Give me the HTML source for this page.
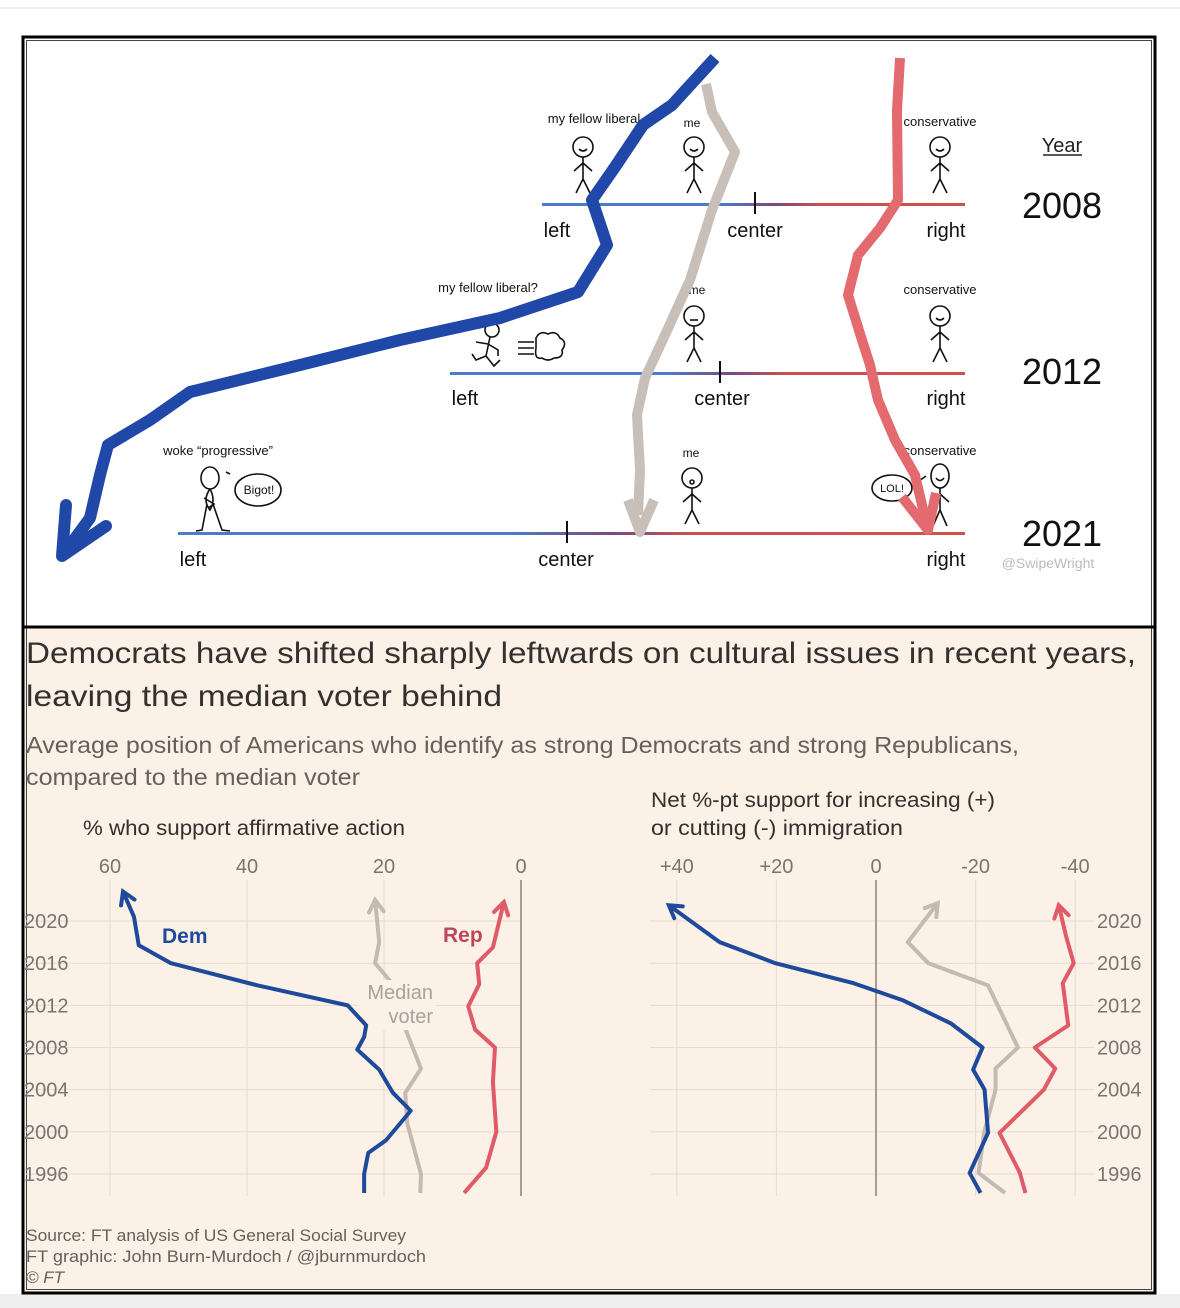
<!DOCTYPE html>
<html><head><meta charset="utf-8"><style>
html,body{margin:0;padding:0;background:#fff;}
svg{display:block;}
.cm{font-family:"Liberation Sans Narrow","Liberation Sans",sans-serif;}
.ft{font-family:"Liberation Sans",sans-serif;}
</style></head><body>
<svg id="page" width="1180" height="1308" viewBox="0 0 1180 1308" xmlns="http://www.w3.org/2000/svg">
<defs>
<linearGradient id="axg" x1="0" x2="1" y1="0" y2="0">
<stop offset="0" stop-color="#4a7cc8"/><stop offset="0.42" stop-color="#4a7cc8"/><stop offset="0.55" stop-color="#7a4a80"/><stop offset="0.65" stop-color="#c8504e"/><stop offset="1" stop-color="#d0504c"/></linearGradient>
</defs>
<rect x="0" y="0" width="1180" height="1308" fill="#fff"/>
<line x1="0" y1="8" x2="1180" y2="8" stroke="#ddd" stroke-width="1"/>
<rect x="0" y="1294" width="1180" height="14" fill="#eee"/>
<rect x="24" y="628" width="1130" height="664" fill="#fcf1e7"/>
<rect x="23" y="37" width="1132" height="1256" fill="none" stroke="#000" stroke-width="3"/>
<rect x="26.5" y="40.5" width="1125" height="1249" fill="none" stroke="#444" stroke-width="1"/>
<line x1="23" y1="627" x2="1155" y2="627" stroke="#000" stroke-width="3"/>

<!-- ===== COMIC ===== -->
<g class="cm">
<text x="1062" y="152" font-size="20" text-anchor="middle" fill="#222">Year</text>
<line x1="1043" y1="155" x2="1082" y2="155" stroke="#222" stroke-width="1.5"/>
<text x="1062" y="218" font-size="36" text-anchor="middle" fill="#111">2008</text>
<text x="1062" y="384" font-size="36" text-anchor="middle" fill="#111">2012</text>
<text x="1062" y="546" font-size="36" text-anchor="middle" fill="#111">2021</text>
<text x="1048" y="568" font-size="14" text-anchor="middle" fill="#bbb">@SwipeWright</text>

<g>
<rect x="542" y="203" width="423" height="3" fill="url(#axg)"/>
<line x1="755" y1="192" x2="755" y2="214" stroke="#111" stroke-width="2"/>
<text x="557" y="237" font-size="20" text-anchor="middle" fill="#111">left</text>
<text x="755" y="237" font-size="20" text-anchor="middle" fill="#111">center</text>
<text x="946" y="237" font-size="20" text-anchor="middle" fill="#111">right</text>
</g>
<g>
<rect x="450" y="372" width="515" height="3" fill="url(#axg)"/>
<line x1="720" y1="361" x2="720" y2="383" stroke="#111" stroke-width="2"/>
<text x="465" y="405" font-size="20" text-anchor="middle" fill="#111">left</text>
<text x="722" y="405" font-size="20" text-anchor="middle" fill="#111">center</text>
<text x="946" y="405" font-size="20" text-anchor="middle" fill="#111">right</text>
</g>
<g>
<rect x="178" y="532" width="787" height="3" fill="url(#axg)"/>
<line x1="567" y1="521" x2="567" y2="543" stroke="#111" stroke-width="2"/>
<text x="193" y="566" font-size="20" text-anchor="middle" fill="#111">left</text>
<text x="566" y="566" font-size="20" text-anchor="middle" fill="#111">center</text>
<text x="946" y="566" font-size="20" text-anchor="middle" fill="#111">right</text>
</g>

<g stroke="#111" stroke-width="1.6" fill="none">
<g transform="translate(583,147)"><circle r="10" fill="#fff"/><path d="M-4,2 Q0,6 4,2"/><path d="M0,10 V32 M-9,24 L0,16 L9,24 M0,32 L-7,46 M0,32 L7,46"/></g>
<g transform="translate(694,147)"><circle r="10" fill="#fff"/><path d="M-4,2 Q0,6 4,2"/><path d="M0,10 V32 M-9,24 L0,16 L9,24 M0,32 L-7,46 M0,32 L7,46"/></g>
<g transform="translate(940,147)"><circle r="10" fill="#fff"/><path d="M-4,2 Q0,6 4,2"/><path d="M0,10 V32 M-9,24 L0,16 L9,24 M0,32 L-7,46 M0,32 L7,46"/></g>
<g transform="translate(694,316)"><circle r="10" fill="#fff"/><path d="M-4,4 H4"/><path d="M0,10 V32 M-9,24 L0,16 L9,24 M0,32 L-7,46 M0,32 L7,46"/></g>
<g transform="translate(940,316)"><circle r="10" fill="#fff"/><path d="M-4,2 Q0,6 4,2"/><path d="M0,10 V32 M-9,24 L0,16 L9,24 M0,32 L-7,46 M0,32 L7,46"/></g>
<g transform="translate(490,330)"><circle r="7" cx="2" cy="0"/><path d="M0,7 L-4,26 L-14,30 L-18,24 M-4,26 L4,36 L10,30 M-2,14 L-14,12 M-2,14 L8,20 L8,26"/></g>
<path d="M518,342 H534 M518,348 H534 M518,354 H534" />
<path d="M536,338 q4,-8 12,-4 q8,-4 12,4 q8,4 2,12 q2,8 -8,8 q-6,4 -12,0 q-8,2 -6,-10 z"/>
<g transform="translate(210,478)"><ellipse rx="9" ry="11" fill="#fff"/><path d="M0,11 Q-8,22 0,32 Q6,22 0,11 M-3,26 L-8,52 L-14,53 M3,26 L12,52 L20,53 M-6,20 L4,26 L-2,30"/></g>
<ellipse cx="258" cy="490" rx="23" ry="16" fill="#fff"/>
<path d="M226,472 l4,2"/>
<g transform="translate(692,478)"><circle r="10" fill="#fff"/><circle cx="0" cy="4" r="2"/><path d="M0,10 V32 M-9,24 L0,16 L9,24 M0,32 L-7,46 M0,32 L7,46"/></g>
<g transform="translate(940,476)"><ellipse rx="9" ry="12" fill="#fff"/><path d="M-4,2 Q0,7 4,2"/><path d="M0,12 V34 M-9,26 L0,18 L9,26 M0,34 L-7,50 M0,34 L7,50"/></g>
<ellipse cx="892" cy="488" rx="20" ry="13" fill="#fff"/>
<path d="M912,486 l14,-10"/>
</g>
<g font-size="13" fill="#111" text-anchor="middle">
<text x="594" y="123">my fellow liberal</text>
<text x="692" y="127" font-size="12">me</text>
<text x="940" y="126">conservative</text>
<text x="488" y="292">my fellow liberal?</text>
<text x="697" y="294" font-size="12">me</text>
<text x="940" y="294">conservative</text>
<text x="218" y="455">woke “progressive”</text>
<text x="691" y="457" font-size="12">me</text>
<text x="940" y="455">conservative</text>
<text x="259" y="494" font-size="12">Bigot!</text>
<text x="892" y="492" font-size="11">LOL!</text>
</g>

<path d="M715,58 L672,105 L643,125 L615,167 L592,200 L607,245 L578,292 L500,318 L400,340 L300,365 L190,392 L150,420 L108,445 L100,475 L90,518 L68,548" fill="none" stroke="#2048a8" stroke-width="12" stroke-linejoin="round"/>
<path d="M62,556 L66,505 M62,556 L106,526" fill="none" stroke="#2048a8" stroke-width="12" stroke-linecap="round"/>
<path d="M706,84 L712,112 L735,152 L712,210 L690,280 L665,335 L645,378 L637,415 L640,470 L638,515" fill="none" stroke="#c8c0b8" stroke-width="10" stroke-linejoin="round"/>
<path d="M628,500 L640,532 L654,500" fill="none" stroke="#c8c0b8" stroke-width="10" stroke-linejoin="round"/>
<path d="M900,58 L897,110 L898,200 L880,228 L858,255 L848,295 L862,340 L870,365 L878,400 L895,440 L915,475 L926,522" fill="none" stroke="#e36a6e" stroke-width="10" stroke-linejoin="round"/>
<path d="M902,497 L928,530 L936,493" fill="none" stroke="#e36a6e" stroke-width="10" stroke-linejoin="round"/>
</g>

<!-- ===== FT CHART ===== -->
<g class="ft">
<text x="26" y="663" font-size="30" fill="#33302e" textLength="1110" lengthAdjust="spacingAndGlyphs">Democrats have shifted sharply leftwards on cultural issues in recent years,</text>
<text x="26" y="706" font-size="30" fill="#33302e" textLength="476" lengthAdjust="spacingAndGlyphs">leaving the median voter behind</text>
<text x="26" y="753" font-size="23" fill="#66605c" textLength="993" lengthAdjust="spacingAndGlyphs">Average position of Americans who identify as strong Democrats and strong Republicans,</text>
<text x="26" y="785" font-size="23" fill="#66605c" textLength="334" lengthAdjust="spacingAndGlyphs">compared to the median voter</text>
<text x="83" y="835" font-size="21" fill="#33302e" textLength="322" lengthAdjust="spacingAndGlyphs">% who support affirmative action</text>
<text x="651" y="807" font-size="21" fill="#33302e" textLength="344" lengthAdjust="spacingAndGlyphs">Net %-pt support for increasing (+)</text>
<text x="651" y="835" font-size="21" fill="#33302e" textLength="252" lengthAdjust="spacingAndGlyphs">or cutting (-) immigration</text>
<g font-size="17" fill="#66605c">
<text x="26" y="1241" textLength="380" lengthAdjust="spacingAndGlyphs">Source: FT analysis of US General Social Survey</text>
<text x="26" y="1262" textLength="400" lengthAdjust="spacingAndGlyphs">FT graphic: John Burn-Murdoch / @jburnmurdoch</text>
<text x="26" y="1283" font-style="italic">© FT</text>
</g>
<g id="left-chart"></g>
<g id="right-chart"></g>
</g>
</svg>
<script>
const yearTicks = [1996, 2000, 2004, 2008, 2012, 2016, 2020];
const leftTicks = [60, 40, 20, 0];
const rightTicks = [40, 20, 0, -20, -40];
const rightTickLabels = ["+40", "+20", "0", "-20", "-40"];

const affDemYears = [1994.2, 1996, 1998, 1999.2, 2002, 2003.7, 2005.9, 2007.8, 2009, 2010.1, 2012, 2013.9, 2016, 2017.7, 2020.4, 2022.8];
const affDem = [22.9, 22.9, 22.3, 19.7, 16.1, 18.7, 20.7, 23.9, 22.9, 22.6, 25.3, 38.5, 51.1, 55.8, 56.5, 58.1];
const affMedYears = [1994.2, 1996, 2000.8, 2003.7, 2006, 2009.8, 2014, 2016, 2018, 2022];
const affMed = [14.7, 14.6, 16.6, 16.9, 14.6, 16.9, 18.7, 21.3, 20.7, 21.3];
const affRepYears = [1994.2, 1996.6, 2000, 2004.7, 2008, 2009.7, 2011.9, 2014, 2016, 2017.5, 2021.8];
const affRep = [8.3, 5.1, 3.6, 4.1, 3.8, 6.7, 7.7, 6.1, 6.4, 4.1, 2.5];

const immDemYears = [1994.2, 1996.1, 1999.9, 2004, 2005.9, 2008, 2010.3, 2012.5, 2014.1, 2016, 2018, 2021.5];
const immDem = [-21, -18.8, -22.5, -21.8, -19.5, -21.4, -15, -5.3, 4.5, 20.2, 31.4, 41.6];
const immMedYears = [1994.2, 1996.1, 1999.9, 2004, 2006, 2008, 2013.9, 2016, 2018, 2021.7];
const immMed = [-25.9, -20.6, -21.7, -24, -24, -28.5, -22.5, -10.5, -6.4, -12.4];
const immRepYears = [1994.2, 1996.1, 1999.9, 2004, 2006, 2008, 2010.1, 2014.1, 2016, 2018.5, 2021.5];
const immRep = [-30, -28.9, -24.8, -33.7, -36, -31.9, -38.6, -37.5, -39.7, -38.2, -36.7];

const NS = "http://www.w3.org/2000/svg";
function mk(parent, tag, attrs) {
  const e = document.createElementNS(NS, tag);
  for (const k in attrs) e.setAttribute(k, attrs[k]);
  parent.appendChild(e);
  return e;
}
function yScale(yr) { return 1174 - (yr - 1996) * 10.54; }
const xLeft = v => 521 - v * 6.85;
const xRight = v => 876 - v * 4.98;

function drawSeries(g, xs, ys, xf, color, width, name) {
  const pts = xs.map((yr, i) => [xf(ys[i]), yScale(yr)]);
  const p = mk(g, "polyline", {points: pts.map(q => q.join(",")).join(" "), fill: "none", stroke: color, "stroke-width": width, "stroke-linejoin": "round"});
  
  
  const a = pts[pts.length - 1], b = pts[pts.length - 2];
  const ang = Math.atan2(a[1] - b[1], a[0] - b[0]);
  const L = 14, s = 0.55;
  const d = `M${a[0] - L * Math.cos(ang - s)},${a[1] - L * Math.sin(ang - s)} L${a[0]},${a[1]} L${a[0] - L * Math.cos(ang + s)},${a[1] - L * Math.sin(ang + s)}`;
  const h = mk(g, "path", {d: d, fill: "none", stroke: color, "stroke-width": width, "stroke-linejoin": "miter", "stroke-linecap": "round"});
  
  
}

(function(){
  const g = document.getElementById("left-chart");
  yearTicks.forEach(yr => {
    const y = yScale(yr);
    const l = mk(g, "line", {x1: 26, x2: 521, y1: y, y2: y, stroke: "#e7dbd0", "stroke-width": 1});
    
    
    const t = mk(g, "text", {x: 24, y: y + 7, "font-size": 20, fill: "#7a7470"});
    t.textContent = yr;
    
    
  });
  leftTicks.forEach(v => {
    const x = xLeft(v);
    const l = mk(g, "line", {x1: x, x2: x, y1: 880, y2: 1196, stroke: v === 0 ? "#a49c96" : "#e7dbd0", "stroke-width": v === 0 ? 2 : 1});
    
    
    const t = mk(g, "text", {x: x, y: 873, "font-size": 20, fill: "#7a7470", "text-anchor": "middle"});
    t.textContent = v;
    
    
  });
  drawSeries(g, affMedYears, affMed, xLeft, "#c3bab2", 4, "median-voter-line");
  const bg = mk(g, "rect", {x: 358, y: 980, width: 78, height: 50, fill: "#fcf1e7"});
  
  
  drawSeries(g, affRepYears, affRep, xLeft, "#e05a68", 4, "rep-line");
  drawSeries(g, affDemYears, affDem, xLeft, "#1f4a9c", 4, "dem-line");
  const t1 = mk(g, "text", {x: 162, y: 943, "font-size": 21, fill: "#1f4a9c", "font-weight": "bold"});
  t1.textContent = "Dem";
  
  
  const t2 = mk(g, "text", {x: 443, y: 942, "font-size": 21, fill: "#c0455a", "font-weight": "bold"});
  t2.textContent = "Rep";
  
  
  const t3 = mk(g, "text", {x: 433, y: 999, "font-size": 20, fill: "#a9a19a", "text-anchor": "end"});
  t3.textContent = "Median";
  
  
  const t4 = mk(g, "text", {x: 433, y: 1023, "font-size": 20, fill: "#a9a19a", "text-anchor": "end"});
  t4.textContent = "voter";
  
  
})();

(function(){
  const g = document.getElementById("right-chart");
  yearTicks.forEach(yr => {
    const y = yScale(yr);
    const l = mk(g, "line", {x1: 650, x2: 1095, y1: y, y2: y, stroke: "#e7dbd0", "stroke-width": 1});
    
    
    const t = mk(g, "text", {x: 1097, y: y + 7, "font-size": 20, fill: "#7a7470"});
    t.textContent = yr;
    
    
  });
  rightTicks.forEach((v, i) => {
    const x = xRight(v);
    const l = mk(g, "line", {x1: x, x2: x, y1: 880, y2: 1196, stroke: v === 0 ? "#a49c96" : "#e7dbd0", "stroke-width": v === 0 ? 2 : 1});
    
    
    const t = mk(g, "text", {x: x, y: 873, "font-size": 20, fill: "#7a7470", "text-anchor": "middle"});
    t.textContent = rightTickLabels[i];
    
    
  });
  drawSeries(g, immMedYears, immMed, xRight, "#c3bab2", 4, "median-voter-line");
  drawSeries(g, immRepYears, immRep, xRight, "#e05a68", 4, "rep-line");
  drawSeries(g, immDemYears, immDem, xRight, "#1f4a9c", 4, "dem-line");
})();
</script>
</body></html>
